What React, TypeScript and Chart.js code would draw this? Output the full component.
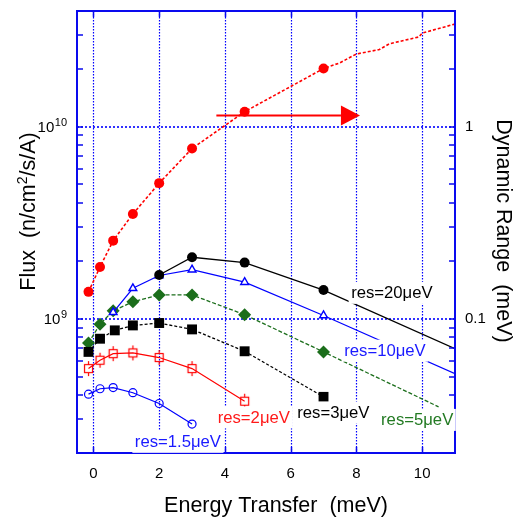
import React, { useEffect, useRef } from "react";
import { Chart, registerables } from "chart.js";

Chart.register(...registerables);

const FONT = '"Liberation Sans", Arial, Helvetica, sans-serif';

// ---- data -------------------------------------------------------------

// Dynamic range (meV), plotted on the right axis
const dynRangeE = [-0.15, 0.2, 0.6, 1.2, 2, 3, 4.6, 7];
const dynRange = [0.138, 0.186, 0.255, 0.351, 0.508, 0.769, 1.196, 2.007];
const dynRangeTailE = [7.5, 8, 8.7, 9, 9.9, 10, 11];
const dynRangeTail = [2.15, 2.39, 2.52, 2.7, 2.93, 3.07, 3.42];

// Flux (n/cm2/s/A) for each resolution
const res20E = [2, 3, 4.6, 7];
const res20 = [1.69e9, 2.09e9, 1.96e9, 1.41e9];
const res20TailE = [11];
const res20Tail = [6.98e8];

const res10E = [0.6, 1.2, 2, 3, 4.6, 7];
const res10 = [1.08e9, 1.44e9, 1.68e9, 1.8e9, 1.55e9, 1.04e9];
const res10TailE = [11];
const res10Tail = [5.18e8];

const res5E = [-0.15, 0.2, 0.6, 1.2, 2, 3, 4.6, 7];
const res5 = [7.48e8, 9.37e8, 1.1e9, 1.225e9, 1.33e9, 1.33e9, 1.05e9, 6.72e8];
const res5TailE = [10.5];
const res5Tail = [3.48e8];

const res3E = [-0.15, 0.2, 0.65, 1.2, 2, 3, 4.6, 7];
const res3 = [6.72e8, 7.87e8, 8.7e8, 9.23e8, 9.5e8, 8.8e8, 6.77e8, 3.92e8];

const res2E = [-0.15, 0.2, 0.6, 1.2, 2, 3, 4.6];
const res2 = [5.5e8, 6.08e8, 6.58e8, 6.64e8, 6.28e8, 5.5e8, 3.72e8];

const res15E = [-0.15, 0.2, 0.6, 1.2, 2, 3];
const res15 = [4.05e8, 4.32e8, 4.38e8, 4.12e8, 3.62e8, 2.83e8];

// ---- axes -------------------------------------------------------------

const xTicks = [0, 2, 4, 6, 8, 10];
const xTickLabels = ["0", "2", "4", "6", "8", "10"];
const fluxMajor = [1e9, 1e10];
const fluxMajorExp = ["9", "10"];
const fluxMinor = [
  2e8, 3e8, 4e8, 5e8, 6e8, 7e8, 8e8, 9e8,
  2e9, 3e9, 4e9, 5e9, 6e9, 7e9, 8e9, 9e9,
  2e10, 3e10, 4e10,
];
const drMajor = [0.1, 1];
const drMajorLabels = ["0.1", "1"];
const drMinor = [
  0.02, 0.03, 0.04, 0.05, 0.06, 0.07, 0.08, 0.09,
  0.2, 0.3, 0.4, 0.5, 0.6, 0.7, 0.8, 0.9,
  2, 3, 4,
];

// ---- annotations ------------------------------------------------------

const seriesLabels = [
  { text: "res=20\u03bceV", color: "#000000", e: 7.84, flux: 1.364e9 },
  { text: "res=10\u03bceV", color: "#1a1aff", e: 7.63, flux: 6.82e8 },
  { text: "res=5\u03bceV", color: "#237a23", e: 8.75, flux: 2.974e8 },
  { text: "res=3\u03bceV", color: "#000000", e: 6.2, flux: 3.25e8 },
  { text: "res=2\u03bceV", color: "#ff1a1a", e: 3.78, flux: 3.064e8 },
  { text: "res=1.5\u03bceV", color: "#1a1aff", e: 1.26, flux: 2.287e8 },
];

// arrow pointing towards the right-hand axis
const arrow = { fromE: 3.74, baseE: 7.53, tipE: 8.11, dr: 1.144 };

const FRAME = "#0a0aee";
const GRID = "#0000ff";
const GREEN = "#1b6e1b";

function pts(e: number[], v: number[], tailE: number[] = [], tail: number[] = []) {
  return [
    ...e.map((x, i) => ({ x, y: v[i] })),
    ...tailE.map((x, i) => ({ x, y: tail[i] })),
  ];
}

function errSquare(color: string) {
  const c = document.createElement("canvas");
  c.width = 15;
  c.height = 17;
  const g = c.getContext("2d")!;
  g.strokeStyle = color;
  g.lineWidth = 1.2;
  g.strokeRect(3.5, 4.5, 8, 8);
  g.beginPath();
  g.moveTo(7.5, 1);
  g.lineTo(7.5, 4.5);
  g.moveTo(7.5, 12.5);
  g.lineTo(7.5, 16);
  g.stroke();
  return c;
}

const decorPlugin = {
  id: "decor",
  beforeDatasetsDraw(chart: any) {
    const { ctx, chartArea: a, scales } = chart;
    ctx.save();
    ctx.strokeStyle = GRID;
    ctx.setLineDash([1.5, 1.5]);
    ctx.lineWidth = 1.2;
    for (const v of xTicks) {
      const px = Math.round(scales.x.getPixelForValue(v)) + 0.5;
      ctx.beginPath();
      ctx.moveTo(px, a.top);
      ctx.lineTo(px, a.bottom);
      ctx.stroke();
    }
    ctx.setLineDash([2, 2]);
    ctx.lineWidth = 1.6;
    for (const v of fluxMajor) {
      const py = Math.round(scales.y.getPixelForValue(v));
      ctx.beginPath();
      ctx.moveTo(a.left, py);
      ctx.lineTo(a.right, py);
      ctx.stroke();
    }
    ctx.restore();
  },
  afterDatasetsDraw(chart: any) {
    const { ctx, chartArea: a, scales } = chart;
    const sx = scales.x, sy = scales.y, sy2 = scales.y2;
    ctx.save();
    ctx.setLineDash([]);

    // frame
    ctx.strokeStyle = FRAME;
    ctx.lineWidth = 2;
    ctx.strokeRect(a.left, a.top, a.right - a.left, a.bottom - a.top);

    // inward ticks
    const TL = 6;
    ctx.lineWidth = 1.5;
    ctx.beginPath();
    for (const v of xTicks) {
      const px = Math.round(sx.getPixelForValue(v)) + 0.5;
      ctx.moveTo(px, a.bottom);
      ctx.lineTo(px, a.bottom - TL);
      ctx.moveTo(px, a.top);
      ctx.lineTo(px, a.top + TL);
    }
    for (const v of [...fluxMinor, ...fluxMajor]) {
      const py = Math.round(sy.getPixelForValue(v));
      ctx.moveTo(a.left, py);
      ctx.lineTo(a.left + TL, py);
    }
    for (const v of [...drMinor, ...drMajor]) {
      const py = Math.round(sy2.getPixelForValue(v));
      ctx.moveTo(a.right, py);
      ctx.lineTo(a.right - TL, py);
    }
    ctx.stroke();

    // tick labels
    ctx.fillStyle = "#000";
    ctx.font = `15px ${FONT}`;
    ctx.textAlign = "center";
    ctx.textBaseline = "middle";
    xTicks.forEach((v, i) => {
      ctx.fillText(xTickLabels[i], sx.getPixelForValue(v), a.bottom + 21);
    });
    fluxMajor.forEach((v, i) => {
      const py = sy.getPixelForValue(v);
      ctx.textBaseline = "alphabetic";
      ctx.font = `11px ${FONT}`;
      ctx.textAlign = "right";
      const right = a.left - 10;
      const supW = ctx.measureText(fluxMajorExp[i]).width;
      ctx.fillText(fluxMajorExp[i], right, py - 0.5);
      ctx.font = `15px ${FONT}`;
      ctx.fillText("10", right - supW - 0.5, py + 5.5);
    });
    ctx.textAlign = "left";
    ctx.textBaseline = "middle";
    ctx.font = `15px ${FONT}`;
    drMajor.forEach((v, i) => {
      ctx.fillText(drMajorLabels[i], a.right + 10, sy2.getPixelForValue(v));
    });

    // axis titles
    ctx.font = `21.5px ${FONT}`;
    ctx.textAlign = "center";
    ctx.textBaseline = "alphabetic";
    ctx.fillText("Energy Transfer  (meV)", (a.left + a.right) / 2 + 10, a.bottom + 58.5);

    // left title with superscript
    ctx.save();
    ctx.translate(35, (a.top + a.bottom) / 2 - 20.5);
    ctx.rotate(-Math.PI / 2);
    ctx.textAlign = "left";
    const p1 = "Flux  (n/cm", sup = "2", p2 = "/s/A)";
    ctx.font = `21.5px ${FONT}`;
    const w1 = ctx.measureText(p1).width;
    const w2 = ctx.measureText(p2).width;
    ctx.font = `14px ${FONT}`;
    const ws = ctx.measureText(sup).width;
    let cx = -(w1 + ws + w2) / 2;
    ctx.font = `21.5px ${FONT}`;
    ctx.fillText(p1, cx, 0);
    cx += w1;
    ctx.font = `14px ${FONT}`;
    ctx.fillText(sup, cx, -8);
    cx += ws;
    ctx.font = `21.5px ${FONT}`;
    ctx.fillText(p2, cx, 0);
    ctx.restore();

    // right title
    ctx.save();
    ctx.translate(497, (a.top + a.bottom) / 2 - 1);
    ctx.rotate(Math.PI / 2);
    ctx.textAlign = "center";
    ctx.font = `21.5px ${FONT}`;
    ctx.fillText("Dynamic Range  (meV)", 0, 0);
    ctx.restore();

    // series labels on opaque boxes
    ctx.font = `16.7px ${FONT}`;
    ctx.textAlign = "left";
    ctx.textBaseline = "middle";
    for (const l of seriesLabels) {
      const px = sx.getPixelForValue(l.e);
      const py = sy.getPixelForValue(l.flux);
      const w = ctx.measureText(l.text).width;
      ctx.fillStyle = "#fff";
      ctx.fillRect(px - 2.5, py - 11, w + 5, 22);
      ctx.fillStyle = l.color;
      ctx.fillText(l.text, px, py + 0.5);
    }

    // arrow
    const ay = sy2.getPixelForValue(arrow.dr);
    const x0 = sx.getPixelForValue(arrow.fromE);
    const xb = sx.getPixelForValue(arrow.baseE);
    const xt = sx.getPixelForValue(arrow.tipE);
    ctx.strokeStyle = "#ff0000";
    ctx.fillStyle = "#ff0000";
    ctx.lineWidth = 2;
    ctx.beginPath();
    ctx.moveTo(x0, ay);
    ctx.lineTo(xb, ay);
    ctx.stroke();
    ctx.beginPath();
    ctx.moveTo(xb, ay - 10);
    ctx.lineTo(xt, ay);
    ctx.lineTo(xb, ay + 10);
    ctx.closePath();
    ctx.fill();

    ctx.restore();
  },
};

export default function App() {
  const ref = useRef<HTMLCanvasElement>(null);

  useEffect(() => {
    const markedRadius = (n: number, r: number) => (c: any) => (c.dataIndex < n ? r : 0);

    const chart = new Chart(ref.current!, {
      type: "line",
      data: {
        datasets: [
          {
            label: "Dynamic range",
            data: pts(dynRangeE, dynRange, dynRangeTailE, dynRangeTail),
            yAxisID: "y2",
            borderColor: "#ff0000",
            backgroundColor: "#ff0000",
            borderWidth: 1.6,
            borderDash: [3, 2],
            pointStyle: "circle",
            pointRadius: markedRadius(dynRangeE.length, 5),
            pointBorderWidth: 0,
          },
          {
            label: "res=20",
            data: pts(res20E, res20, res20TailE, res20Tail),
            yAxisID: "y",
            borderColor: "#000",
            backgroundColor: "#000",
            borderWidth: 1.3,
            pointStyle: "circle",
            pointRadius: markedRadius(res20E.length, 5),
            pointBorderWidth: 0,
          },
          {
            label: "res=10",
            data: pts(res10E, res10, res10TailE, res10Tail),
            yAxisID: "y",
            borderColor: "#0000ff",
            backgroundColor: "#ffffff",
            borderWidth: 1.2,
            pointStyle: "triangle",
            pointRadius: markedRadius(res10E.length, 4.5),
            pointBorderWidth: 1.4,
          },
          {
            label: "res=3",
            data: pts(res3E, res3),
            yAxisID: "y",
            borderColor: "#000",
            backgroundColor: "#000",
            borderWidth: 1.3,
            borderDash: [3, 2],
            pointStyle: "rect",
            pointRadius: 7,
            pointBorderWidth: 0,
          },
          {
            label: "res=5",
            data: pts(res5E, res5, res5TailE, res5Tail),
            yAxisID: "y",
            borderColor: GREEN,
            backgroundColor: GREEN,
            borderWidth: 1.3,
            borderDash: [4, 2],
            pointStyle: "rectRot",
            pointRadius: markedRadius(res5E.length, 6.5),
            pointBorderWidth: 0,
          },
          {
            label: "res=2",
            data: pts(res2E, res2),
            yAxisID: "y",
            borderColor: "#ff0000",
            backgroundColor: "rgba(0,0,0,0)",
            borderWidth: 1.2,
            pointStyle: errSquare("#ff0000"),
            pointRadius: 5,
          },
          {
            label: "res=1.5",
            data: pts(res15E, res15),
            yAxisID: "y",
            borderColor: "#0000ff",
            backgroundColor: "rgba(0,0,0,0)",
            borderWidth: 1.2,
            pointStyle: "circle",
            pointRadius: 4,
            pointBorderWidth: 1.2,
          },
        ],
      },
      options: {
        animation: false,
        responsive: false,
        devicePixelRatio: 1,
        layout: { padding: { top: 11, left: 0, right: 0, bottom: 0 } },
        plugins: { legend: { display: false }, tooltip: { enabled: false } },
        elements: { line: { tension: 0 } },
        scales: {
          x: {
            type: "linear",
            min: -0.5,
            max: 11,
            ticks: { display: false },
            grid: { display: false },
            border: { display: false },
            afterFit: (s: any) => {
              s.height = 64;
            },
          },
          y: {
            type: "logarithmic",
            position: "left",
            min: 2e8,
            max: 4e10,
            ticks: { display: false },
            grid: { display: false },
            border: { display: false },
            afterFit: (s: any) => {
              s.width = 77;
            },
          },
          y2: {
            type: "logarithmic",
            position: "right",
            min: 0.02,
            max: 4,
            ticks: { display: false },
            grid: { display: false },
            border: { display: false },
            afterFit: (s: any) => {
              s.width = 68;
            },
          },
        },
      } as any,
      plugins: [decorPlugin],
    });
    return () => chart.destroy();
  }, []);

  return (
    <div style={{ position: "fixed", left: 0, top: 0, width: 523, height: 517, background: "#fff" }}>
      <canvas ref={ref} width={523} height={517} style={{ display: "block" }} />
    </div>
  );
}
